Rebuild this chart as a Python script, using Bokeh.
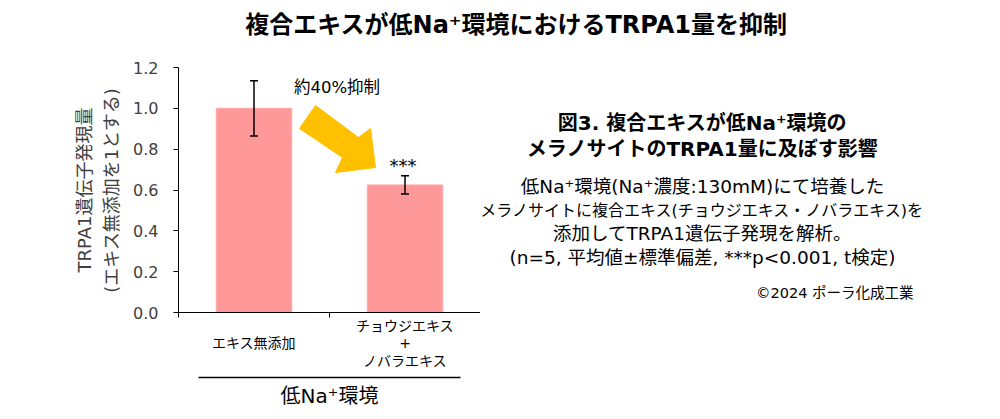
from bokeh.plotting import figure
from bokeh.layouts import column, row
from bokeh.models import (Range1d, LinearAxis, FixedTicker,
                          NumeralTickFormatter, ColumnDataSource, Whisker, TeeHead, Label)
from bokeh.core.properties import value
from bokeh.embed import file_html
from bokeh.resources import INLINE

# ---------------- data ----------------
categories = ["エキス無添加", "チョウジエキス\n+\nノバラエキス"]
values = [1.0, 0.625]
errors = [0.135, 0.045]
significance = ["", "***"]
y_ticks = [0.0, 0.2, 0.4, 0.6, 0.8, 1.0, 1.2]
group_label = "低Na⁺環境"
title_text = "複合エキスが低Na⁺環境におけるTRPA1量を抑制"
y_label = "TRPA1遺伝子発現量\n(エキス無添加を1とする)"
arrow_label = "約40%抑制"
caption_title = ["図3. 複合エキスが低Na⁺環境の", "メラノサイトのTRPA1量に及ぼす影響"]
caption_body = ["低Na⁺環境(Na⁺濃度:130mM)にて培養した",
                "メラノサイトに複合エキス(チョウジエキス・ノバラエキス)を",
                "添加してTRPA1遺伝子発現を解析。",
                "(n=5, 平均値±標準偏差, ***p<0.001, t検定)"]
credit = "©2024 ポーラ化成工業"

# ---------------- layout (page pixels) ----------------
W, H = 1000, 419
TH = 48                              # height of the title strip
FL, FR, FT, FB = 178, 480, 67, 312   # plot frame
FONT = "'DejaVu Sans', 'Noto Sans CJK JP'"
BAR = "#FF9999"
GOLD = "#FFC000"
body_sizes = ["18.5px", "16px", "18.5px", "18.5px"]

n = len(categories)
centers = [i + 0.5 for i in range(n)]
# pad single-line labels so every label is vertically centred like the 3-line one
max_lines = max(c.count("\n") + 1 for c in categories)
tick_text = []
for c in categories:
    k = c.count("\n") + 1
    tick_text.append("\n" * ((max_lines - k) // 2) + c)

src = ColumnDataSource(dict(
    x=centers, val=values,
    upper=[v + e for v, e in zip(values, errors)],
    lower=[v - e for v, e in zip(values, errors)],
))

ymax = 1.2
def dx(px):
    return (px - FL) / (FR - FL) * n
def dy(py):
    return (FB - py) / (FB - FT) * ymax

# ---------------- title strip ----------------
t = figure(width=W, height=TH, x_range=Range1d(0, W), y_range=Range1d(TH, 0),
           min_border=0, x_axis_location=None, y_axis_location=None,
           output_backend="svg", toolbar_location=None)
t.outline_line_color = None
t.grid.grid_line_color = None
t.text(x=[516], y=[24], text=[title_text], text_font=value(FONT), text_font_size="24px",
       text_font_style="bold", text_align="center", text_baseline="middle", text_color="black")

# ---------------- chart ----------------
p = figure(x_range=Range1d(0, n), y_range=Range1d(0, ymax),
           frame_width=FR - FL, frame_height=FB - FT,
           min_border_left=FL, min_border_right=0,
           min_border_top=FT - TH, min_border_bottom=H - FB,
           x_axis_location=None, y_axis_location=None,
           output_backend="svg", toolbar_location=None)
p.outline_line_color = None
p.grid.grid_line_color = None
p.background_fill_color = "white"
p.border_fill_color = "white"

yax = LinearAxis(ticker=FixedTicker(ticks=y_ticks), formatter=NumeralTickFormatter(format="0.0"),
                 major_tick_out=5, major_tick_in=0, minor_tick_line_color=None,
                 major_label_standoff=15, major_label_text_font=FONT,
                 major_label_text_font_size="16px", major_label_text_color="#404040",
                 axis_line_color="black", major_tick_line_color="black",
                 axis_label=y_label, axis_label_text_font=FONT, axis_label_text_font_size="18px",
                 axis_label_text_font_style="normal", axis_label_text_color="#404040",
                 axis_label_text_line_height=1.28, axis_label_standoff=8)
p.add_layout(yax, "left")

# boundary ticks of the category axis
bax = LinearAxis(ticker=FixedTicker(ticks=list(range(n + 1))),
                 major_label_text_font_size="0px", major_tick_out=5, major_tick_in=0,
                 minor_tick_line_color=None, major_label_standoff=0,
                 axis_line_color="black", major_tick_line_color="black")
bax.major_label_overrides = {i: "" for i in range(n + 1)}
p.add_layout(bax, "below")
# category labels
cax = LinearAxis(ticker=FixedTicker(ticks=centers), axis_line_color=None, major_tick_line_color=None,
                 minor_tick_line_color=None, major_tick_out=0, major_tick_in=0,
                 major_label_text_font=FONT, major_label_text_font_size="14px",
                 major_label_text_color="black", major_label_text_line_height=1.12,
                 major_label_standoff=0)
cax.major_label_overrides = {c: lbl for c, lbl in zip(centers, tick_text)}
p.add_layout(cax, "below")
# invisible spacer between labels and the group bracket
sax = LinearAxis(ticker=FixedTicker(ticks=centers[:1]), axis_line_color=None, major_tick_line_color=None,
                 minor_tick_line_color=None, major_tick_out=5, major_tick_in=0,
                 major_label_text_font_size="0px", major_label_standoff=0)
sax.major_label_overrides = {centers[0]: ""}
p.add_layout(sax, "below")
# group bracket line + group label
gax = LinearAxis(ticker=FixedTicker(ticks=[]), bounds=(dx(198), dx(460)),
                 axis_line_color="black", axis_line_width=1.5,
                 major_tick_line_color=None, minor_tick_line_color=None,
                 major_label_text_font_size="0px", major_label_standoff=0,
                 axis_label=group_label, axis_label_text_font=FONT, axis_label_text_font_size="20px",
                 axis_label_text_font_style="normal", axis_label_text_color="black",
                 axis_label_standoff=6)
p.add_layout(gax, "below")

p.vbar(x="x", top="val", width=0.5, source=src, fill_color=BAR, line_color="#FFA8A8", line_width=1)

p.add_layout(Whisker(source=src, base="x", upper="upper", lower="lower", level="annotation",
                     line_color="black", line_width=1.5,
                     upper_head=TeeHead(size=8, line_width=1.5, line_color="black"),
                     lower_head=TeeHead(size=8, line_width=1.5, line_color="black")))

arrow_px = [(315, 105), (358, 137), (370, 128), (375, 167), (335, 172), (342, 157), (299, 128)]
p.patch([dx(a) for a, b in arrow_px], [dy(b) for a, b in arrow_px], fill_color=GOLD, line_color=GOLD)

def lab(x, y, text, size, align="center", baseline="middle"):
    p.add_layout(Label(x=x, y=y, text=text, text_font=FONT, text_font_size=f"{size}px",
                       text_align=align, text_baseline=baseline, text_color="black"))

for c, s, u in zip(centers, significance, src.data["upper"]):
    if s:
        lab(c - dx(FL + 2), u + dy(FB - 10), s, 18, baseline="alphabetic")
lab(dx(336.5), dy(87), arrow_label, 16.5)

# ---------------- right caption ----------------
# (this plot's frame is aligned with the chart frame by the row layout)
RW = W - FR
r = figure(width=RW, height=H - TH, x_range=Range1d(FR, W), y_range=Range1d(FB, FT),
           min_border=0, x_axis_location=None, y_axis_location=None,
           output_backend="svg", toolbar_location=None)
r.outline_line_color = None
r.grid.grid_line_color = None
r.text(x=[702] * len(caption_title), y=[122 + i * 26 for i in range(len(caption_title))],
       text=caption_title, text_font=value(FONT), text_font_size="20px", text_font_style="bold",
       text_align="center", text_baseline="middle", text_color="black")
for i, (line, fs) in enumerate(zip(caption_body, body_sizes)):
    r.text(x=[702], y=[186 + i * 23.5], text=[line], text_font=value(FONT), text_font_size=fs,
           text_align="center", text_baseline="middle", text_color="black")
r.text(x=[913], y=[292], text=[credit], text_font=value(FONT), text_font_size="14.5px",
       text_align="right", text_baseline="middle", text_color="black")

layout = column(t, row(p, r, spacing=0), spacing=0)
open("out.html", "w").write(file_html(layout, INLINE))
